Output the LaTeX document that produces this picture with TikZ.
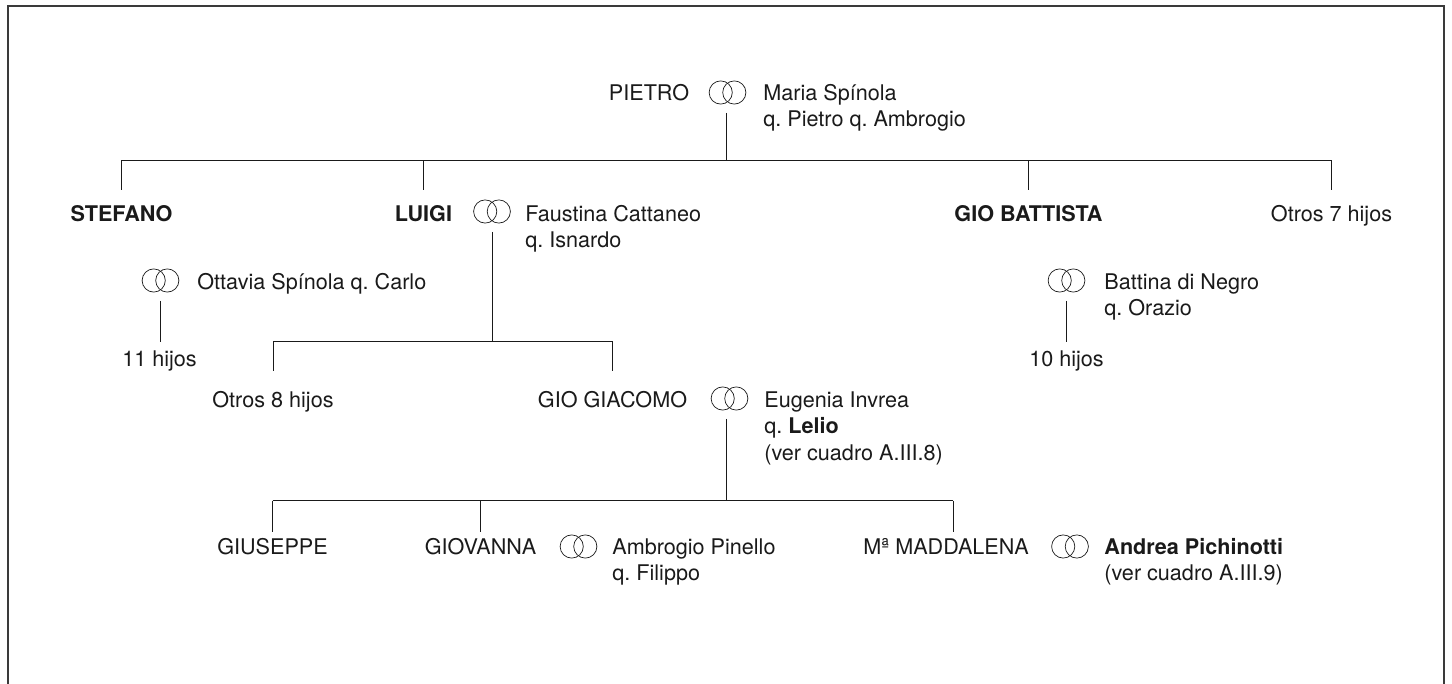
\documentclass[tikz,border=0pt]{standalone}
\usepackage{xcolor}
\usepackage{fontspec}
\setmainfont{TeX Gyre Heros}
\definecolor{framegray}{HTML}{3a3a3a}
\definecolor{inkblack}{HTML}{1a1a1a}
\tikzset{
  treeline/.style={inkblack,line width=0.5pt},
  rings/.style={minimum width=20pt,minimum height=20pt,inner sep=0pt,
    path picture={
      \draw[inkblack,line width=0.35pt] ([xshift=-3.4pt]path picture bounding box.center) circle[radius=5.8pt];
      \draw[inkblack,line width=0.35pt] ([xshift=3.4pt]path picture bounding box.center) circle[radius=5.8pt];
    }},
  kid/.style={anchor=base,inner sep=0pt,text height=8pt,text depth=0pt,text=inkblack,
    font=\fontsize{10.8}{13.2}\selectfont\frenchspacing},
  spouse/.style={anchor=base west,inner sep=0pt,align=left,text=inkblack,
    font=\fontsize{10.8}{13.2}\selectfont\frenchspacing},
}
\begin{document}
\begin{tikzpicture}[x=0.5pt,y=-0.5pt]
  \useasboundingbox (-0.5,-0.5) rectangle (1451.5,683.5);
  \draw[framegray,line width=0.8pt] (7.5,683.5) -- (7.5,5.5) -- (1443.5,5.5) -- (1443.5,683.5);

  \node[kid] (pietro) at (648.5,100) {PIETRO};
  \node[rings] (rpietro) at (727,92) {};
  \node[spouse] (maria) at (762.5,100) {Maria Spínola};
  \node[spouse] (mariaq) at (762.5,126) {q. Pietro q. Ambrogio};
  \coordinate (barp) at (726,160);

  \node[kid] (stefano) at (121,221) {\textbf{STEFANO}};
  \node[kid] (luigi) at (423,221) {\textbf{LUIGI}};
  \node[rings] (rluigi) at (491.5,211) {};
  \node[spouse] (faustina) at (524.5,221) {Faustina Cattaneo};
  \node[spouse] (faustinaq) at (524.5,247) {q. Isnardo};
  \node[kid] (battista) at (1028,221) {\textbf{GIO BATTISTA}};
  \node[kid] (otrossiete) at (1331,221) {Otros 7 hijos};

  \node[rings] (rottavia) at (160,280) {};
  \node[spouse] (ottavia) at (196.5,289) {Ottavia Spínola q. Carlo};
  \node[kid] (oncehijos) at (159,366.5) {11 hijos};
  \node[rings] (rbattina) at (1066,280) {};
  \node[spouse] (battina) at (1103.5,289) {Battina di Negro};
  \node[spouse] (battinaq) at (1103.5,315.5) {q. Orazio};
  \node[kid] (diezhijos) at (1066,366.5) {10 hijos};

  \coordinate (barl) at (491.5,341);
  \node[kid] (otrosocho) at (272.5,407) {Otros 8 hijos};
  \node[kid] (giacomo) at (612,407) {GIO GIACOMO};
  \node[rings] (rgiacomo) at (729,398) {};
  \node[spouse] (eugenia) at (763.5,407) {Eugenia Invrea};
  \node[spouse] (eugeniaq) at (763.5,433) {q. \textbf{Lelio}};
  \node[spouse] (eugeniav) at (763.5,460) {(ver cuadro A.III.8)};
  \coordinate (barg) at (726,500);

  \node[kid] (giuseppe) at (272,554) {GIUSEPPE};
  \node[kid] (giovanna) at (480,554) {GIOVANNA};
  \node[rings] (rgiovanna) at (578,546) {};
  \node[spouse] (ambrogio) at (611.5,554) {Ambrogio Pinello};
  \node[spouse] (ambrogioq) at (611.5,580) {q. Filippo};
  \node[kid] (maddalena) at (945.5,554) {Mª MADDALENA};
  \node[rings] (rmaddalena) at (1069.5,546) {};
  \node[spouse] (andrea) at (1103.5,554) {\textbf{Andrea Pichinotti}};
  \node[spouse] (andreav) at (1103.5,580) {(ver cuadro A.III.9)};
  \coordinate (dropm) at (952.5,531);

  \draw[treeline] (rpietro.south -| barp) -- (barp);
  \draw[treeline] (barp -| stefano) -- (barp -| otrossiete);
  \draw[treeline] (barp -| stefano) -- ([yshift=7.5pt]stefano.north);
  \draw[treeline] (barp -| luigi) -- ([yshift=7.5pt]luigi.north);
  \draw[treeline] (barp -| battista) -- ([yshift=7.5pt]battista.north);
  \draw[treeline] (barp -| otrossiete) -- ([yshift=7.5pt]otrossiete.north);

  \draw[treeline] (rottavia.south) -- ([yshift=4.5pt,xshift=0.5pt]oncehijos.north);
  \draw[treeline] (rbattina.south) -- ([yshift=4.5pt]diezhijos.north);

  \draw[treeline] (rluigi.south) -- (barl);
  \draw[treeline] (barl -| otrosocho) -- (barl -| giacomo);
  \draw[treeline] (barl -| otrosocho) -- ([yshift=10pt]otrosocho.north);
  \draw[treeline] (barl -| giacomo) -- ([yshift=10pt]giacomo.north);

  \draw[treeline] (rgiacomo.south -| barg) -- (barg);
  \draw[treeline] (barg -| giuseppe) -- (barg -| dropm);
  \draw[treeline] (barg -| giuseppe) -- ([yshift=3pt]giuseppe.north);
  \draw[treeline] (barg -| giovanna) -- ([yshift=3pt]giovanna.north);
  \draw[treeline] (barg -| dropm) -- (dropm);
\end{tikzpicture}
\end{document}
